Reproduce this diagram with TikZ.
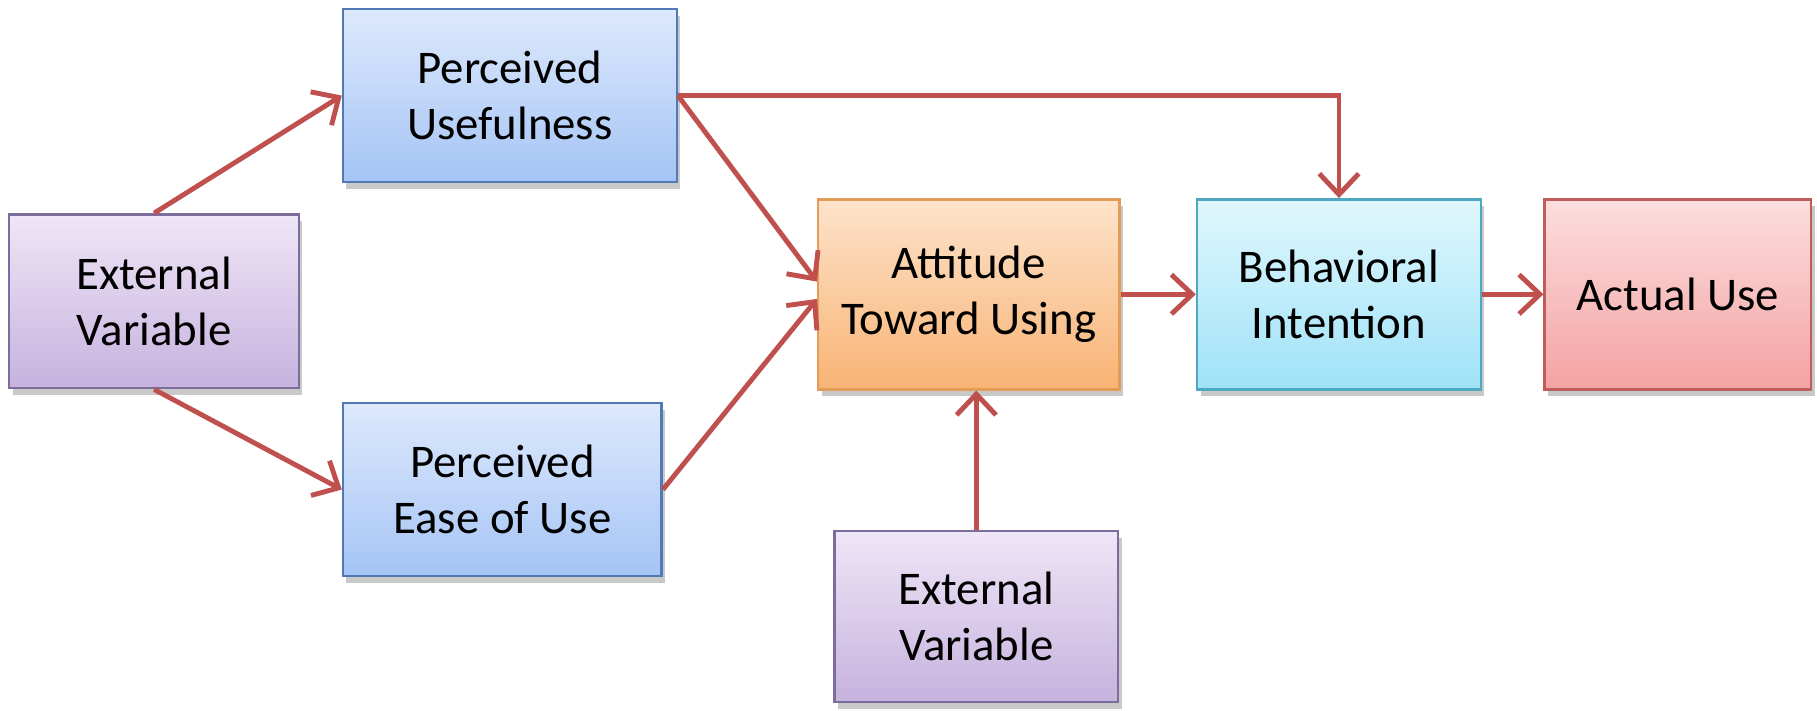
\documentclass[tikz,border=0pt]{standalone}
\usepackage{fontspec}
\setmainfont{Carlito}
\usetikzlibrary{arrows.meta,shadows}
\definecolor{flowred}{HTML}{C0504D}
\definecolor{evtop}{HTML}{EFE6F7}\definecolor{evbot}{HTML}{C6B2DE}\definecolor{evline}{HTML}{7D6D9C}
\definecolor{putop}{HTML}{DDE9FC}\definecolor{pubot}{HTML}{A5C4F5}\definecolor{puline}{HTML}{5079B5}
\definecolor{attop}{HTML}{FDE3CB}\definecolor{atbot}{HTML}{F8B374}\definecolor{atline}{HTML}{E29C58}
\definecolor{bitop}{HTML}{E0F7FD}\definecolor{bibot}{HTML}{9FE2F7}\definecolor{biline}{HTML}{4FA8C0}
\definecolor{autop}{HTML}{FCDEDE}\definecolor{aubot}{HTML}{F4A2A2}\definecolor{auline}{HTML}{BF5C5C}
\tikzset{%
tambox/.style={rectangle,align=center,line width=0.6pt,
  font=\fontsize{11.5}{13.8}\selectfont,
  drop shadow={shadow xshift=0.3mm,shadow yshift=-0.6mm,opacity=0.3,fill=black!70}},
extvar/.style={tambox,draw=evline,top color=evtop,bottom color=evbot},
percv/.style={tambox,draw=puline,top color=putop,bottom color=pubot},
flow/.style={->,>={Straight Barb[length=1.8mm,width=3.4mm]},draw=flowred,line width=1.2pt},
}
\begin{document}
\begin{tikzpicture}
    \useasboundingbox (0,0) rectangle (15.68,-6.13);
    \node[extvar,minimum width=2.5cm,minimum height=1.5cm] (EV) at (1.33,-2.6) {External\\Variable};
    \node[percv,minimum width=2.88cm,minimum height=1.49cm] (PU) at (4.4,-0.825) {Perceived\\Usefulness};
    \node[percv,minimum width=2.75cm,minimum height=1.49cm] (PE) at (4.335,-4.225) {Perceived\\Ease of Use};
    \node[tambox,draw=atline,top color=attop,bottom color=atbot,minimum width=2.6cm,minimum height=1.64cm] (AT) at (8.36,-2.54) {Attitude\\Toward Using};
    \node[tambox,draw=biline,top color=bitop,bottom color=bibot,minimum width=2.45cm,minimum height=1.64cm] (BI) at (11.555,-2.54) {Behavioral\\Intention};
    \node[tambox,draw=auline,top color=autop,bottom color=aubot,minimum width=2.3cm,minimum height=1.64cm] (AU) at (14.48,-2.54) {Actual Use};
    \node[extvar,minimum width=2.45cm,minimum height=1.48cm] (EB) at (8.425,-5.32) {External\\Variable};
    \draw[flow](EV.north)--(PU.west);
    \draw[flow](EV.south)--(PE.west);
    \draw[flow](PU.east)--([yshift=0.11cm]AT.west);
    \draw[flow](PE.east)--([yshift=-0.04cm]AT.west);
    \draw[flow](PU.east)-|(BI.north);
    \draw[flow](AT)--(BI);
    \draw[flow](BI)--(AU);
    \draw[flow](EB.north)--(EB.north|-AT.south);
\end{tikzpicture}
\end{document}
